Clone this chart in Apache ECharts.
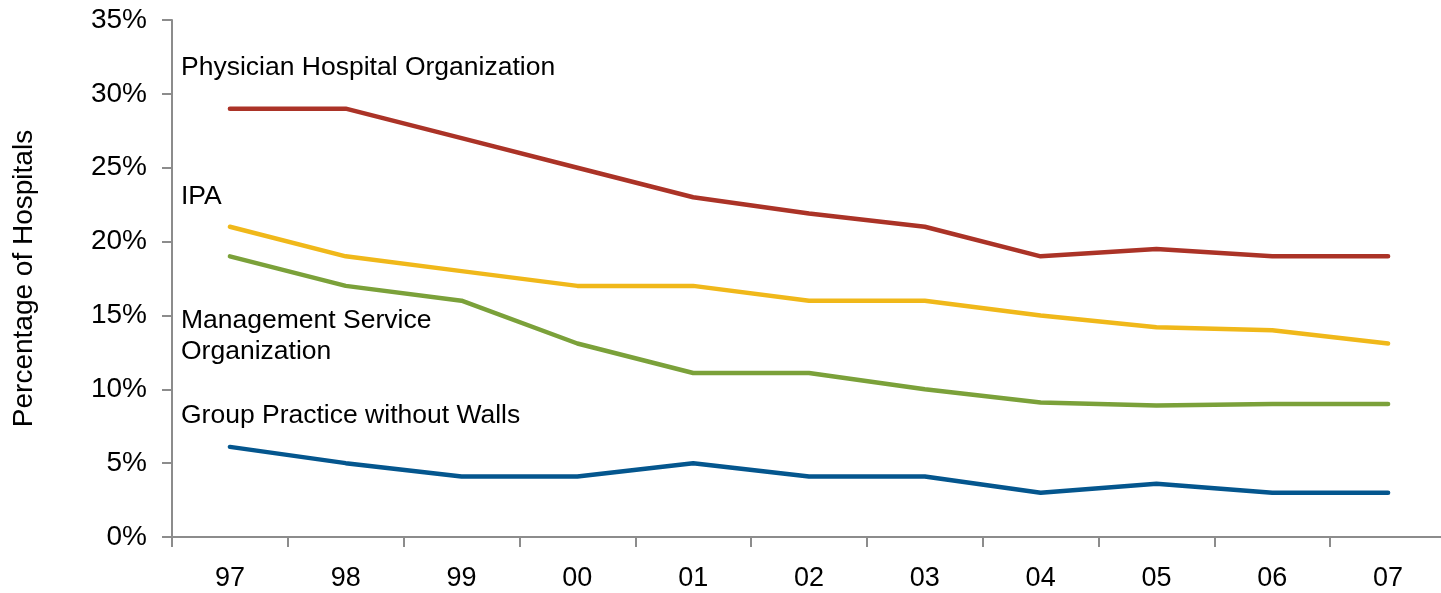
<!DOCTYPE html>
<html>
<head>
<meta charset="utf-8">
<script src="https://cdn.jsdelivr.net/npm/echarts@6/dist/echarts.min.js"></script>
<style>html,body{margin:0;padding:0;background:#fff}#c{width:1441px;height:593px}</style>
</head>
<body>
<div id="c"></div>
<script>
const years = ['97','98','99','00','01','02','03','04','05','06','07'];
const pho  = [29, 29, 27, 25, 23, 21.9, 21, 19, 19.5, 19, 19];
const ipa  = [21, 19, 18, 17, 17, 16, 16, 15, 14.2, 14, 13.1];
const mso  = [19, 17, 16, 13.1, 11.1, 11.1, 10, 9.1, 8.9, 9, 9];
const gpww = [6.1, 5, 4.1, 4.1, 5, 4.1, 4.1, 3, 3.6, 3, 3];
const yTicks = {min: 0, max: 35, step: 5};
const seriesNames = ['Physician Hospital Organization', 'IPA', 'Management Service\nOrganization', 'Group Practice without Walls'];

const colors = ['#AB3327', '#F0B81A', '#7BA13A', '#04568E'];
const font = 'Liberation Sans, Arial, sans-serif';
const chart = echarts.init(document.getElementById('c'));
const data = [pho, ipa, mso, gpww];
const labelY = [68, 197, 336, 416];
chart.setOption({
  animation: false,
  grid: {left: 172, top: 20, width: 1274, height: 517, containLabel: false, outerBoundsMode: 'none'},
  xAxis: {
    type: 'category', data: years, boundaryGap: true,
    axisLine: {lineStyle: {color: '#8C8C8C', width: 2}},
    axisTick: {show: true, length: 10, lineStyle: {color: '#8C8C8C', width: 2}},
    axisLabel: {color: '#000', fontSize: 27, fontFamily: font, margin: 28}
  },
  yAxis: {
    type: 'value', min: yTicks.min, max: yTicks.max, interval: yTicks.step,
    name: 'Percentage of Hospitals', nameLocation: 'middle', nameGap: 134, nameRotate: 90,
    nameMoveOverlap: false,
    nameTextStyle: {color: '#000', fontSize: 28, fontFamily: font},
    axisLine: {show: true, lineStyle: {color: '#8C8C8C', width: 2}},
    axisTick: {show: true, length: 10, lineStyle: {color: '#8C8C8C', width: 2}},
    splitLine: {show: false},
    axisLabel: {color: '#000', fontSize: 28, fontFamily: font, margin: 25, formatter: '{value}%'}
  },
  series: data.map((d, i) => ({
    type: 'line', name: seriesNames[i], data: d, symbol: 'none',
    lineStyle: {color: colors[i], width: 4.5, cap: 'round', join: 'round'}
  })),
  graphic: seriesNames.map((n, i) => ({
    type: 'text', x: 181, y: labelY[i], style: {
      text: n, fill: '#000', fontSize: 26.5, fontFamily: font, lineHeight: 31,
      verticalAlign: 'middle'
    }
  }))
});
</script>
</body>
</html>
